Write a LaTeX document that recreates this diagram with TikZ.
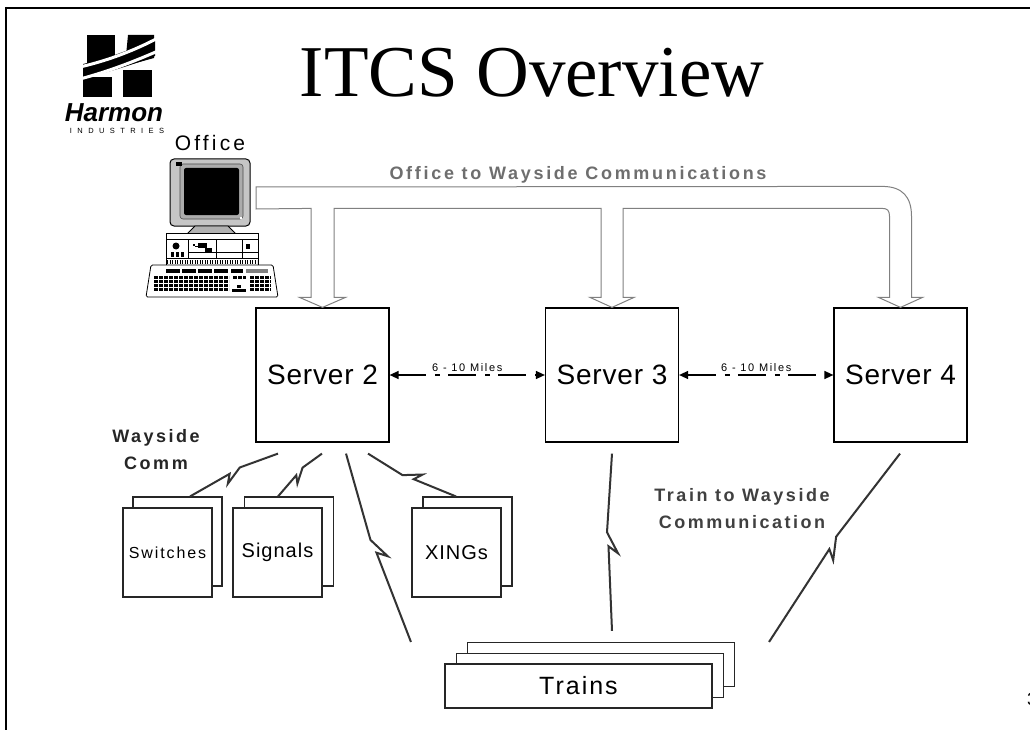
\documentclass[tikz,border=0pt]{standalone}
\usepackage{fontspec}
\setmainfont{Liberation Sans}[Ligatures=NoCommon]
\newfontfamily\titlefont{Liberation Serif}
\usetikzlibrary{calc,arrows.meta}

\definecolor{pipegray}{HTML}{808080}
\definecolor{pipetext}{HTML}{6E6E6E}
\definecolor{commtext}{HTML}{404040}
\definecolor{boltgray}{HTML}{333333}

% lightning-bolt radio link between two points, optional size factor
\newcommand\zap[3][1]{%
  \draw[bolt] (#2)
    -- ($(#2)!0.5!(#3)!{-10pt*#1}!(#3)!{5pt*#1}!-90:(#3)$)
    -- ($(#2)!0.5!(#3)!{11pt*#1}!(#3)!{6pt*#1}!90:(#3)$)
    -- ($(#2)!0.5!(#3)!{4pt*#1}!(#3)!{3.5pt*#1}!-90:(#3)$)
    -- (#3);}

\begin{document}
\begin{tikzpicture}[x=1pt,y=-1pt,
  server/.style={draw=black, line width=1.2pt, fill=white, inner sep=0pt,
    minimum width=133pt, minimum height=134pt,
    font=\fontsize{28}{30}\selectfont\addfontfeature{LetterSpace=3}},
  stackbox/.style={draw=black!85, line width=1.1pt, fill=white, inner sep=0pt},
  wbox/.style={stackbox, minimum width=89pt, minimum height=89pt},
  tbox/.style={stackbox, minimum width=267pt, minimum height=44pt},
  bolt/.style={draw=boltgray, line width=2pt, line join=miter, miter limit=20},
  miles/.style={line width=1.4pt, dash pattern=on 28pt off 9pt on 5pt off 8pt,
    {Triangle[length=9pt,width=8pt]}-{Triangle[length=9pt,width=8pt]}},
  mlabel/.style={above, inner sep=3pt,
    font=\fontsize{11}{12}\selectfont\addfontfeature{LetterSpace=15}},
  pipe/.style={draw=pipegray, line width=1pt, fill=white, line join=miter},
  commlabel/.style={align=center,
    font=\bfseries\fontsize{18}{27}\selectfont\addfontfeature{LetterSpace=14}}
]
\useasboundingbox (0,0) rectangle (1030,730);
\fill[white] (0,0) rectangle (1030,730);

% slide frame
\draw[line width=2pt] (5,8) -- (1030,8);
\draw[line width=2pt] (6,7) -- (6,730);

% title
\node[font=\titlefont\fontsize{73}{80}\selectfont] (title) at (532,73) {ITCS Overview};

% company logo
\begin{scope}
  \fill (87,35) rectangle (115,66);
  \fill (128,35) -- (154,35) -- (154,58) -- (125,66) -- cycle;
  \fill (83,64) .. controls (110,58) and (135,48) .. (155,38)
     -- (155,56) .. controls (135,64) and (110,72) .. (83,78) -- cycle;
  \fill (83,77) rectangle (112,97);
  \fill (123,70) rectangle (152,97);
  \draw[white, line width=3pt] (80,67) .. controls (110,60) and (135,50) .. (158,38);
  \draw[white, line width=3pt] (80,79) .. controls (110,71) and (135,61) .. (158,51);
\end{scope}
\node[font=\bfseries\itshape\fontsize{26}{27}\selectfont, inner sep=0pt] (harmon) at (114,113) {Harmon};
\node[font=\fontsize{7.5}{8}\selectfont\addfontfeature{LetterSpace=72}, inner sep=0pt] (ind) at (117,131) {INDUSTRIES};

% office computer
\node[font=\fontsize{21}{22}\selectfont\addfontfeature{LetterSpace=15}] (officelbl) at (210,143) {Office};
\node[minimum width=132pt, minimum height=140pt, inner sep=0pt] (pc) at (212,228) {};
\begin{scope}
  % monitor
  \filldraw[fill=gray!45, draw=black, line width=1pt, rounded corners=4pt] (170,159) rectangle (250,226);
  \filldraw[fill=gray!65, draw=black!70, line width=0.6pt, rounded corners=3pt] (180,164) rectangle (243,219);
  \fill[black, rounded corners=2pt] (184,168) rectangle (239,215);
  \fill (176,162) rectangle (182,166);
  \fill[white] (240,217) rectangle (242,219);
  \filldraw[fill=gray!60, draw=black, line width=0.8pt] (195,226) -- (228,226) -- (236,234) -- (187,234) -- cycle;
  % system unit
  \filldraw[fill=white, draw=black, line width=1pt] (166,233) rectangle (258,265);
  \draw[line width=0.6pt] (166,239) -- (258,239);
  \draw[line width=0.6pt] (188,239) -- (188,258) (216,239) -- (216,258) (242,239) -- (242,258);
  \draw[line width=0.6pt] (166,258) -- (258,258);
  \draw[line width=0.6pt] (188,252) -- (258,252);
  \fill (176,246) circle (3.5pt);
  \foreach \x in {171,176,181} \fill (\x,252) rectangle ++(3,5);
  \fill (193,244) rectangle ++(2,2);
  \draw[line width=0.6pt] (195,246) -- (203,246);
  \fill (198,243) rectangle ++(9,5);
  \fill (205,248) rectangle ++(7,5);
  \fill (246,244) rectangle ++(4,5);
  \draw[line width=4pt, dash pattern=on 1.2pt off 1.3pt] (167,261.5) -- (257,261.5);
  % keyboard
  \filldraw[fill=white, draw=black, line width=0.8pt, rounded corners=1.5pt] (151,265) -- (273,265) -- (278,297) -- (146,297) -- cycle;
  \foreach \x in {166,182,198,214} \fill (\x,269) rectangle ++(14,4);
  \fill (231,269) rectangle ++(12,4);
  \fill[gray] (246,269) rectangle ++(22,4);
  \foreach \r in {0,1,2,3}
    \draw[line width=3pt, dash pattern=on 4pt off 1pt] (154,277.5+4*\r) -- (229,277.5+4*\r);
  \foreach \r in {0,1,2,3}
    \draw[line width=3pt, dash pattern=on 4pt off 1pt] (250,277.5+4*\r) -- (271,277.5+4*\r);
  \draw[line width=3pt, dash pattern=on 4pt off 1pt] (233,277.5) -- (246,277.5);
  \fill (237,285) rectangle ++(4,3);
  \fill (232,289) rectangle ++(14,3);
\end{scope}

% servers
\node[server] (s2) at (322.5,375) {Server 2};
\node[server] (s3) at (612,375) {Server 3};
\node[server] (s4) at (900.5,375) {Server 4};

% office to wayside pipe
\coordinate (pipeL) at (256,187);
\draw[pipe] (pipeL)
  -- ($(s4.north)+(-18.5,-121)$)
  .. controls ($(s4.north)+(2.5,-121)$) and ($(s4.north)+(11,-110)$) .. ($(s4.north)+(11,-91)$)
  -- ($(s4.north)+(11,-10)$) -- ($(s4.north)+(22,-10)$) -- (s4.north)
  -- ($(s4.north)+(-22,-10)$) -- ($(s4.north)+(-11,-10)$) -- ($(s4.north)+(-11,-91)$)
  .. controls ($(s4.north)+(-11,-97)$) and ($(s4.north)+(-13,-99)$) .. ($(s4.north)+(-18.5,-99)$)
  -- ($(s3.north)+(11,-99)$)
  -- ($(s3.north)+(11,-10)$) -- ($(s3.north)+(22,-10)$) -- (s3.north)
  -- ($(s3.north)+(-22,-10)$) -- ($(s3.north)+(-11,-10)$) -- ($(s3.north)+(-11,-99)$)
  -- ($(s2.north)+(11.5,-99)$)
  -- ($(s2.north)+(11.5,-10)$) -- ($(s2.north)+(23,-10)$) -- (s2.north)
  -- ($(s2.north)+(-23,-10)$) -- ($(s2.north)+(-11.5,-10)$) -- ($(s2.north)+(-11.5,-99)$)
  -- ($(pipeL)+(0,22)$) -- cycle;
\node[font=\bfseries\fontsize{18}{20}\selectfont\addfontfeature{LetterSpace=15}, text=pipetext] (pipelbl) at (578,175) {Office to Wayside Communications};

% server spacing
\draw[miles] (s2) -- node[mlabel] (m1) {6 - 10 Miles} (s3);
\draw[miles] (s3) -- node[mlabel] (m2) {6 - 10 Miles} (s4);

% wayside devices
\node[wbox] (swB) at (177.5,541.5) {};
\node[wbox, font=\fontsize{16}{18}\selectfont\addfontfeature{LetterSpace=12}] (sw) at (167.5,552.5) {Switches};
\node[wbox] (sgB) at (289,541.5) {};
\node[wbox, font=\fontsize{20}{22}\selectfont\addfontfeature{LetterSpace=5}] (sg) at (277.5,552.5) {Signals};
\node[wbox] (xgB) at (467.5,541.5) {};
\node[wbox, font=\fontsize{20}{22}\selectfont\addfontfeature{LetterSpace=5}] (xg) at (456.5,552.5) {XINGs};

% trains
\node[tbox] (trB) at (601,664.5) {};
\node[tbox] (trM) at (590,675.5) {};
\node[tbox, font=\fontsize{25}{27}\selectfont\addfontfeature{LetterSpace=8}] (tr) at (578.5,686) {Trains};

% labels
\node[commlabel, text=black!85] (wclbl) at (156,450) {Wayside\\Comm};
\node[commlabel, text=commtext] (twlbl) at (742,509) {Train to Wayside\\Communication};

% radio links
\coordinate (b1a) at ($(s2.south)+(-44.5,11)$);
\coordinate (b1b) at ($(swB.north)+(12.5,0)$);
\coordinate (b2a) at ($(s2.south)+(-0.5,11)$);
\coordinate (b2b) at ($(sgB.north)+(-11,0)$);
\coordinate (b3a) at ($(s2.south)+(23.5,11)$);
\coordinate (b3b) at ($(trB.north west)+(-56,0)$);
\coordinate (b4a) at ($(s2.south)+(45.5,11)$);
\coordinate (b4b) at ($(xgB.north)+(-11.5,0)$);
\coordinate (b5a) at ($(s3.south)+(0,11)$);
\coordinate (b5b) at ($(trB.north)+(11,-11)$);
\coordinate (b6a) at ($(s4.south)+(-0.5,11)$);
\coordinate (b6b) at ($(trB.north east)+(34,0)$);
\zap[0.85]{b1a}{b1b}
\zap[0.7]{b2a}{b2b}
\zap{b3a}{b3b}
\zap[0.85]{b4a}{b4b}
\zap{b5a}{b5b}
\zap{b6a}{b6b}

% page number at the edge
\node[anchor=west, inner sep=0pt, font=\fontsize{18}{20}\selectfont] (pgno) at (1027,699) {3};
\end{tikzpicture}
\end{document}
